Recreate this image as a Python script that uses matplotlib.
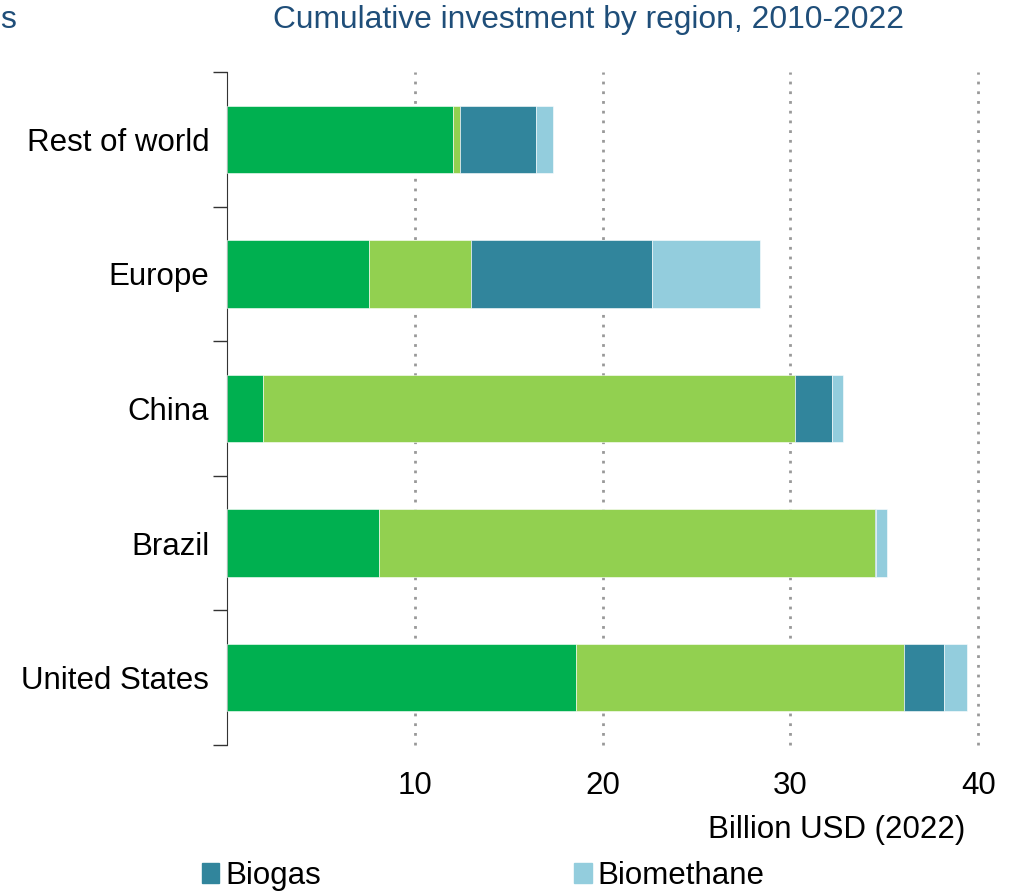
import matplotlib
matplotlib.use("Agg")
import matplotlib.pyplot as plt
from matplotlib.patches import Patch
import numpy as np

plt.rcParams["font.family"] = ["Liberation Sans", "DejaVu Sans"]

# Data (billion USD 2022)
regions = ["United States", "Brazil", "China", "Europe", "Rest of world"]
dark_green = [18.6, 8.1, 1.9, 7.55, 12.05]
light_green = [17.45, 26.4, 28.35, 5.43, 0.35]
biogas = [2.15, 0.05, 1.95, 9.62, 4.05]
biomethane = [1.2, 0.6, 0.6, 5.8, 0.9]

colors = ["#00b050", "#92d050", "#31859c", "#93cddd"]
series = [dark_green, light_green, biogas, biomethane]

fig = plt.figure(figsize=(10.19, 8.91), dpi=100)
ax = fig.add_axes([0.223, 0.164, 0.737, 0.755])

y = np.arange(len(regions))
left = np.zeros(len(regions))
for vals, c in zip(series, colors):
    ax.barh(y, vals, left=left, height=0.5, color=c, edgecolor="white",
            linewidth=0.4, zorder=3)
    left += np.array(vals)

ax.set_xlim(0, 40)
ax.set_ylim(-0.5, 4.5)
ax.set_xticks([10, 20, 30, 40])
ax.set_yticks(y)
ax.set_yticklabels(regions)
ax.set_yticks(np.arange(-0.5, 5.0, 1), minor=True)
ax.tick_params(axis="y", which="major", length=0, pad=13, labelsize=22.5)
ax.tick_params(axis="y", which="minor", length=10, width=1, color="#333333")
ax.tick_params(axis="x", length=0, labelsize=22.5, pad=19)
ax.grid(axis="x", linestyle=(0, (1, 2.5)), color="#999999", linewidth=2, zorder=0)
for gl in ax.get_xgridlines():
    gl.set_clip_on(False)

for s in ["top", "right", "bottom"]:
    ax.spines[s].set_visible(False)
ax.spines["left"].set_color("#333333")

fig.text(0.947, 0.068, "Billion USD (2022)", ha="right", va="center", fontsize=22.5)
fig.text(0.268, 0.978, "Cumulative investment by region, 2010-2022",
         ha="left", va="center", fontsize=22.9, color="#1f4e79")
fig.text(0.0, 0.978, "s", ha="left", va="center", fontsize=22.9, color="#1f4e79")

handles = [Patch(color=colors[2], label="Biogas"), Patch(color=colors[3], label="Biomethane")]
fig.legend(handles=handles, loc="center left", bbox_to_anchor=(0.186, 0.017), ncol=2,
           frameon=False, fontsize=22.5, handlelength=0.55, handleheight=0.6,
           handletextpad=0.2, columnspacing=8.1, borderaxespad=0)

fig.savefig("out.png", dpi=100)
